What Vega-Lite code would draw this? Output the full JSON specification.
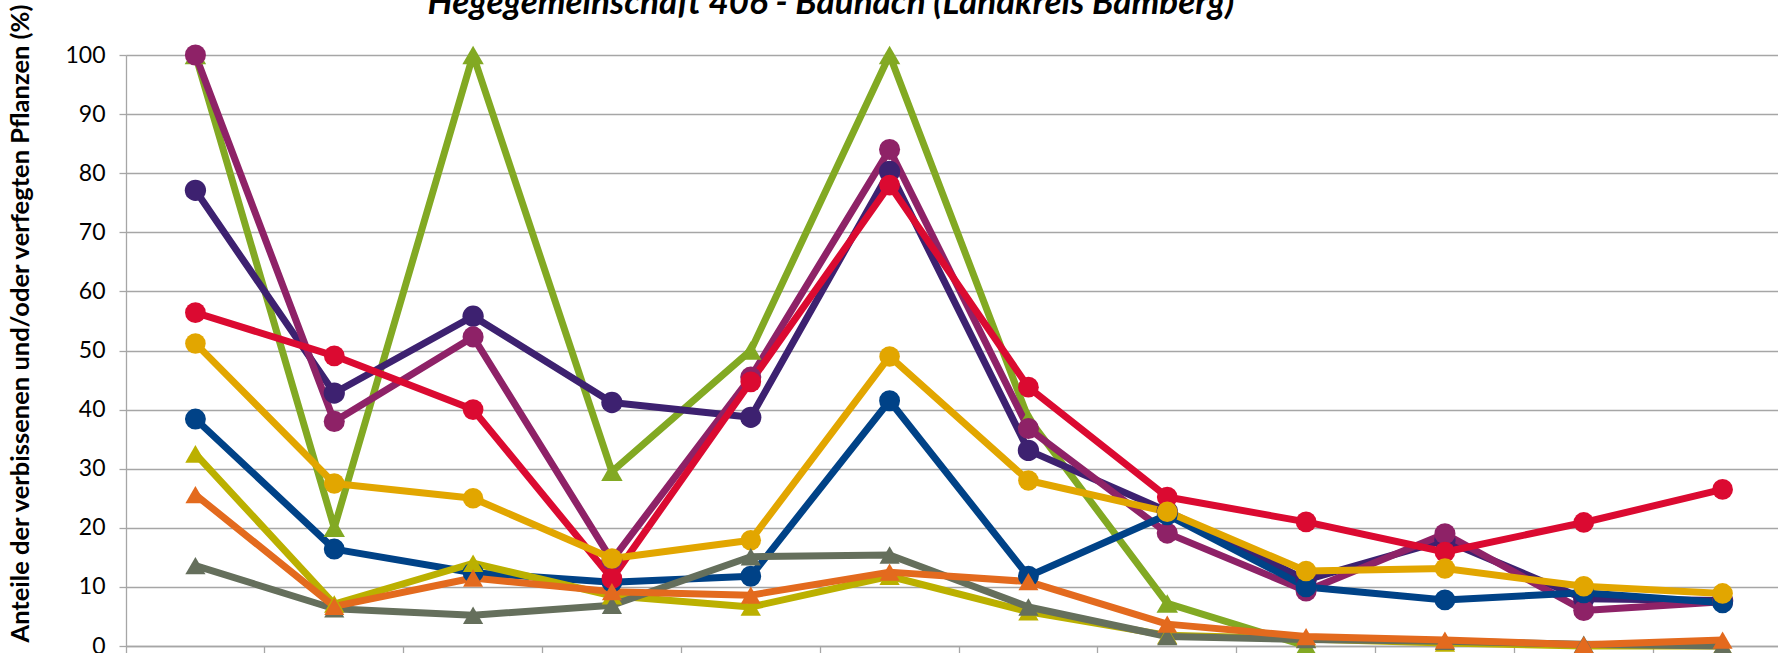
{
  "$schema": "https://vega.github.io/schema/vega-lite/v6.json",
  "width": 1652,
  "height": 591,
  "autosize": {"type": "none"},
  "padding": {"left": 126, "top": 55, "right": 0, "bottom": 7},
  "background": "white",
  "config": {"view": {"stroke": null}, "font": "Lato"},
  "title": {
    "text": "Hegegemeinschaft 406 - Baunach (Landkreis Bamberg)",
    "fontSize": 35,
    "fontWeight": "bold",
    "fontStyle": "italic",
    "color": "#000000",
    "anchor": "middle",
    "dx": -121,
    "dy": 47,
    "offset": 1,
    "baseline": "alphabetic"
  },
  "data": {
    "values": [
      {"k": 1, "s": "S1", "v": 100}, {"k": 2, "s": "S1", "v": 20}, {"k": 3, "s": "S1", "v": 100}, {"k": 4, "s": "S1", "v": 29.5}, {"k": 5, "s": "S1", "v": 50}, {"k": 6, "s": "S1", "v": 100}, {"k": 7, "s": "S1", "v": 38.5}, {"k": 8, "s": "S1", "v": 7.2}, {"k": 9, "s": "S1", "v": 0},
      {"k": 1, "s": "S2", "v": 77.1}, {"k": 2, "s": "S2", "v": 42.8}, {"k": 3, "s": "S2", "v": 55.8}, {"k": 4, "s": "S2", "v": 41.2}, {"k": 5, "s": "S2", "v": 38.7}, {"k": 6, "s": "S2", "v": 80.3}, {"k": 7, "s": "S2", "v": 33.1}, {"k": 8, "s": "S2", "v": 22.8}, {"k": 9, "s": "S2", "v": 11.2}, {"k": 10, "s": "S2", "v": 17.9}, {"k": 11, "s": "S2", "v": 8.0}, {"k": 12, "s": "S2", "v": 7.7},
      {"k": 1, "s": "S3", "v": 100}, {"k": 2, "s": "S3", "v": 38.0}, {"k": 3, "s": "S3", "v": 52.3}, {"k": 4, "s": "S3", "v": 14.5}, {"k": 5, "s": "S3", "v": 45.5}, {"k": 6, "s": "S3", "v": 84.0}, {"k": 7, "s": "S3", "v": 36.8}, {"k": 8, "s": "S3", "v": 19.1}, {"k": 9, "s": "S3", "v": 9.3}, {"k": 10, "s": "S3", "v": 19.0}, {"k": 11, "s": "S3", "v": 6.0}, {"k": 12, "s": "S3", "v": 7.5},
      {"k": 1, "s": "S4", "v": 38.4}, {"k": 2, "s": "S4", "v": 16.4}, {"k": 3, "s": "S4", "v": 12.4}, {"k": 4, "s": "S4", "v": 10.8}, {"k": 5, "s": "S4", "v": 11.8}, {"k": 6, "s": "S4", "v": 41.5}, {"k": 7, "s": "S4", "v": 11.8}, {"k": 8, "s": "S4", "v": 22.2}, {"k": 9, "s": "S4", "v": 10.0}, {"k": 10, "s": "S4", "v": 7.8}, {"k": 11, "s": "S4", "v": 9.0}, {"k": 12, "s": "S4", "v": 7.3},
      {"k": 1, "s": "S5", "v": 56.4}, {"k": 2, "s": "S5", "v": 49.1}, {"k": 3, "s": "S5", "v": 40.0}, {"k": 4, "s": "S5", "v": 11.4}, {"k": 5, "s": "S5", "v": 44.7}, {"k": 6, "s": "S5", "v": 78.0}, {"k": 7, "s": "S5", "v": 43.8}, {"k": 8, "s": "S5", "v": 25.2}, {"k": 9, "s": "S5", "v": 21.0}, {"k": 10, "s": "S5", "v": 15.9}, {"k": 11, "s": "S5", "v": 20.9}, {"k": 12, "s": "S5", "v": 26.5},
      {"k": 1, "s": "S6", "v": 51.2}, {"k": 2, "s": "S6", "v": 27.5}, {"k": 3, "s": "S6", "v": 25.0}, {"k": 4, "s": "S6", "v": 14.8}, {"k": 5, "s": "S6", "v": 17.9}, {"k": 6, "s": "S6", "v": 49.0}, {"k": 7, "s": "S6", "v": 28.0}, {"k": 8, "s": "S6", "v": 22.7}, {"k": 9, "s": "S6", "v": 12.7}, {"k": 10, "s": "S6", "v": 13.1}, {"k": 11, "s": "S6", "v": 10.1}, {"k": 12, "s": "S6", "v": 8.9},
      {"k": 1, "s": "S7", "v": 32.5}, {"k": 2, "s": "S7", "v": 7.1}, {"k": 3, "s": "S7", "v": 14.0}, {"k": 4, "s": "S7", "v": 8.5}, {"k": 5, "s": "S7", "v": 6.6}, {"k": 6, "s": "S7", "v": 11.8}, {"k": 7, "s": "S7", "v": 5.8}, {"k": 8, "s": "S7", "v": 1.8}, {"k": 9, "s": "S7", "v": 1.2}, {"k": 10, "s": "S7", "v": 0.5}, {"k": 11, "s": "S7", "v": 0}, {"k": 12, "s": "S7", "v": 0},
      {"k": 1, "s": "S8", "v": 13.6}, {"k": 2, "s": "S8", "v": 6.3}, {"k": 3, "s": "S8", "v": 5.2}, {"k": 4, "s": "S8", "v": 6.9}, {"k": 5, "s": "S8", "v": 15.1}, {"k": 6, "s": "S8", "v": 15.4}, {"k": 7, "s": "S8", "v": 6.6}, {"k": 8, "s": "S8", "v": 1.6}, {"k": 9, "s": "S8", "v": 1.1}, {"k": 10, "s": "S8", "v": 0.8}, {"k": 11, "s": "S8", "v": 0.3}, {"k": 12, "s": "S8", "v": 0},
      {"k": 1, "s": "S9", "v": 25.6}, {"k": 2, "s": "S9", "v": 6.7}, {"k": 3, "s": "S9", "v": 11.5}, {"k": 4, "s": "S9", "v": 9.2}, {"k": 5, "s": "S9", "v": 8.6}, {"k": 6, "s": "S9", "v": 12.5}, {"k": 7, "s": "S9", "v": 10.9}, {"k": 8, "s": "S9", "v": 3.7}, {"k": 9, "s": "S9", "v": 1.6}, {"k": 10, "s": "S9", "v": 1.0}, {"k": 11, "s": "S9", "v": 0.2}, {"k": 12, "s": "S9", "v": 1.0}
    ]
  },
  "encoding": {
    "x": {
      "field": "k",
      "type": "ordinal",
      "bandPosition": 0.5,
      "scale": {"type": "band", "paddingInner": 0, "paddingOuter": 0, "range": [0, 1666]},
      "axis": {
        "title": null,
        "labels": false,
        "ticks": true,
        "tickSize": 7,
        "bandPosition": 0,
        "grid": false,
        "domainColor": "#A6A6A6",
        "domainWidth": 1.3,
        "tickColor": "#A6A6A6",
        "tickWidth": 1.3
      }
    },
    "y": {
      "field": "v",
      "type": "quantitative",
      "scale": {"domain": [0, 100], "nice": false},
      "axis": {
        "title": "Anteile der verbissenen und/oder verfegten Pflanzen (%)",
        "values": [0, 10, 20, 30, 40, 50, 60, 70, 80, 90, 100],
        "grid": true,
        "gridColor": "#A6A6A6",
        "gridWidth": 1.3,
        "domainColor": "#A6A6A6",
        "domainWidth": 1.3,
        "tickColor": "#A6A6A6",
        "tickWidth": 1.3,
        "tickSize": 7,
        "labelFontSize": 23,
        "labelColor": "#000000",
        "labelPadding": 14,
        "titleFontSize": 25.5,
        "titleFontWeight": "bold",
        "titleColor": "#000000",
        "titleX": -106,
        "titleY": 268,
        "titleAlign": "center",
        "titleBaseline": "middle",
        "titleAngle": -90
      }
    },
    "color": {
      "field": "s",
      "type": "nominal",
      "scale": {
        "domain": ["S1", "S2", "S3", "S4", "S5", "S6", "S7", "S8", "S9"],
        "range": ["#82A923", "#3D2170", "#8E2267", "#004287", "#DB0A31", "#E2A600", "#BBB000", "#656F5C", "#E36A1E"]
      },
      "legend": null
    }
  },
  "layer": [
    {"mark": {"type": "line", "strokeWidth": 7, "strokeJoin": "round", "strokeCap": "round"}},
    {
      "mark": {"type": "point", "filled": true, "opacity": 1, "strokeWidth": 0},
      "encoding": {
        "shape": {
          "field": "s",
          "type": "nominal",
          "scale": {
            "domain": ["S1", "S2", "S3", "S4", "S5", "S6", "S7", "S8", "S9"],
            "range": ["triangle-up", "circle", "circle", "circle", "circle", "circle", "triangle-up", "triangle-up", "triangle-up"]
          },
          "legend": null
        },
        "size": {
          "field": "s",
          "type": "nominal",
          "scale": {
            "domain": ["S1", "S2", "S3", "S4", "S5", "S6", "S7", "S8", "S9"],
            "range": [460, 400, 400, 400, 400, 400, 460, 460, 460]
          },
          "legend": null
        }
      }
    }
  ]
}
